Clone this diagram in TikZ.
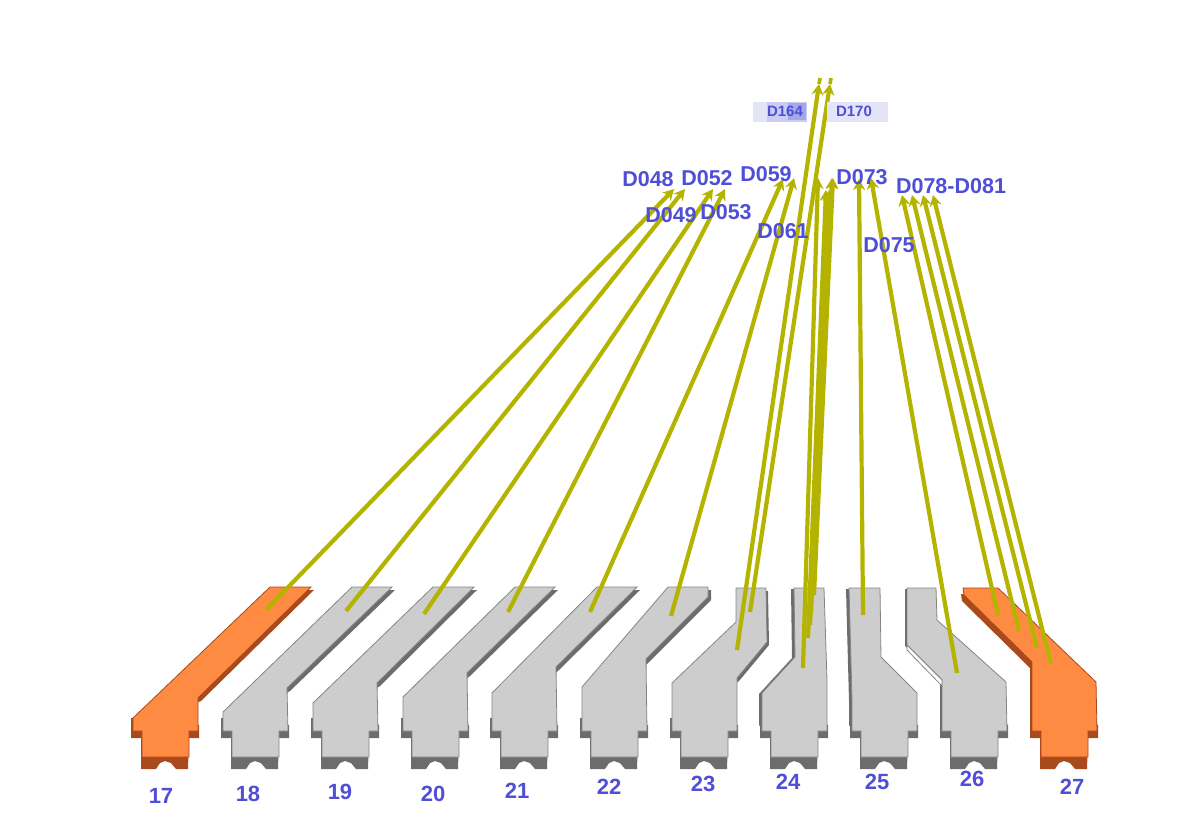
\documentclass[tikz,border=0pt]{standalone}
\usepackage{fontspec}
\setmainfont{Liberation Sans}
\usetikzlibrary{arrows.meta}
\definecolor{railgray}{HTML}{CDCDCD}
\definecolor{raildark}{HTML}{6C6C6C}
\definecolor{railedge}{HTML}{858585}
\definecolor{railorange}{HTML}{FF8A42}
\definecolor{orangedark}{HTML}{A84A1C}
\definecolor{wireyellow}{HTML}{B4B400}
\definecolor{labelblue}{HTML}{4E4ED6}
\definecolor{patchlight}{HTML}{E3E5F6}
\definecolor{patchmid}{HTML}{CACDF1}
\definecolor{patchdeep}{HTML}{A4A8EA}
\newcommand{\railbar}[5]{%
  \fill[#4, shift={(#5)}] (#1,725) -- #2 -- cycle;
  \fill[#4] (#1-2,718) -- (#1-2,738) -- (#1+8,738) -- (#1+8,769) -- (#1+23,769) -- (#1+27,763) -- (#1+32,761) -- (#1+38,763) -- (#1+43,769) -- (#1+55,769) -- (#1+56,738) -- (#1+66,738) -- (#1+66,725) -- cycle;
  \draw[#3] (#1,731) -- #2 -- (#1+65,731) -- (#1+56,731) -- (#1+56,757) -- (#1+9,757) -- (#1+9,731) -- cycle;
}
\begin{document}
\begin{tikzpicture}[
    x=1pt, y=-1pt,
    grayface/.style = {draw=railedge, line width=0.8pt, fill=railgray},
    grayshade/.style = {raildark},
    orangeface/.style = {draw=orangedark, line width=0.8pt, fill=railorange},
    orangeshade/.style = {orangedark},
    wire/.style = {draw=wireyellow, line width=4.2pt, -{Stealth[length=11pt,width=12pt]}},
    wiretail/.style = {draw=wireyellow, line width=3.6pt},
    barnum/.style = {text=labelblue, font=\bfseries\fontsize{22}{22}\selectfont, inner sep=0pt},
    wirelabel/.style = {text=labelblue, font=\bfseries\fontsize{21.5}{22}\selectfont, inner sep=0pt},
    toplabel/.style = {text=labelblue, font=\bfseries\fontsize{15}{16}\selectfont, inner sep=0pt}
]
\useasboundingbox (0,0) rectangle (1189,825);

\railbar{133}{(133,718) -- (270,587) -- (311,587) -- (198,698)}{orangeface}{orangeshade}{3,3}
\railbar{223}{(223,712) -- (352,587) -- (392,587) -- (287,688)}{grayface}{grayshade}{3,3}
\railbar{313}{(313,703) -- (433,587) -- (474,587) -- (377,683)}{grayface}{grayshade}{3,3}
\railbar{403}{(403,697) -- (515,587) -- (555,587) -- (467,673)}{grayface}{grayshade}{3,3}
\railbar{492}{(492,693) -- (597,587) -- (637,587) -- (556,667)}{grayface}{grayshade}{3,3}
\railbar{582}{(582,687) -- (668,587) -- (708,587) -- (708,597) -- (646,659)}{grayface}{grayshade}{3,3}
\railbar{672}{(672,683) -- (736,622) -- (736,588) -- (766,588) -- (767,642) -- (737,678)}{grayface}{grayshade}{2,3}
\railbar{762}{(762,693) -- (795,657) -- (794,588) -- (824,588) -- (827,680)}{grayface}{grayshade}{-3,1}
\railbar{852}{(852,700) -- (849,588) -- (880,588) -- (881,657) -- (917,693)}{grayface}{grayshade}{-3,1}
\railbar{942}{(942,680) -- (907,645) -- (907,588) -- (936,588) -- (937,620) -- (1006,682)}{grayface}{grayshade}{-2,1}
\railbar{1032}{(1032,662) -- (964,595) -- (963,588) -- (998,588) -- (1096,682)}{orangeface}{orangeshade}{-2,6}
\draw[grayface, fill=white] (907,645) -- (907,650) -- (942,686) -- (942,680) -- cycle;

\coordinate (w17a) at (266,610);  \coordinate (w17b) at (674,189);
\coordinate (w18a) at (346,611);  \coordinate (w18b) at (685,189);
\coordinate (w19a) at (424,614);  \coordinate (w19b) at (713,189);
\coordinate (w20a) at (508,612);  \coordinate (w20b) at (725,189);
\coordinate (w21a) at (590,612);  \coordinate (w21b) at (783,179);
\coordinate (w22a) at (671,616);  \coordinate (w22b) at (794,178);
\coordinate (w23a) at (737,650);  \coordinate (w23b) at (819,84);  \coordinate (w23e) at (820,78);
\coordinate (w23c) at (750,612);  \coordinate (w23d) at (830,84);  \coordinate (w23f) at (831,78);
\coordinate (w24a) at (803,668);  \coordinate (w24b) at (818,178);
\coordinate (w24c) at (808,638);  \coordinate (w24d) at (826,190);
\coordinate (w24e) at (810,625);  \coordinate (w24f) at (832,178);
\coordinate (w24g) at (811,613);  \coordinate (w24h) at (829,190);
\coordinate (w24i) at (814,595);  \coordinate (w24j) at (833,178);
\coordinate (w25a) at (863,615);  \coordinate (w25b) at (859,179);
\coordinate (w26a) at (957,673);  \coordinate (w26b) at (871,178);
\coordinate (w27a) at (998,615);  \coordinate (w27b) at (902,195);
\coordinate (w27c) at (1019,631); \coordinate (w27d) at (912,195);
\coordinate (w27e) at (1037,648); \coordinate (w27f) at (923,195);
\coordinate (w27g) at (1051,664); \coordinate (w27h) at (933,195);

\draw[wire] (w17a) -- (w17b);
\draw[wire] (w18a) -- (w18b);
\draw[wire] (w19a) -- (w19b);
\draw[wire] (w20a) -- (w20b);
\draw[wire] (w21a) -- (w21b);
\draw[wire] (w22a) -- (w22b);
\draw[wire] (w23a) -- (w23b);
\draw[wiretail] (w23b) -- (w23e);
\draw[wire] (w23c) -- (w23d);
\draw[wiretail] (w23d) -- (w23f);
\draw[wire] (w24a) -- (w24b);
\draw[wire] (w24c) -- (w24d);
\draw[wire] (w24e) -- (w24f);
\draw[wire] (w24g) -- (w24h);
\draw[wire] (w24i) -- (w24j);
\draw[wire] (w25a) -- (w25b);
\draw[wire] (w26a) -- (w26b);
\draw[wire] (w27a) -- (w27b);
\draw[wire] (w27c) -- (w27d);
\draw[wire] (w27e) -- (w27f);
\draw[wire] (w27g) -- (w27h);

\fill[patchlight] (753,102) rectangle (807,122);
\fill[patchmid] (767,102) rectangle (807,122);
\fill[patchdeep] (788,103) rectangle (806,120);
\fill[patchlight] (827,102) rectangle (888,122);

\node[toplabel] (d164) at (785,111) {D164};
\node[toplabel] (d170) at (854,111) {D170};
\node[wirelabel] (d048) at (648,179) {D048};
\node[wirelabel] (d052) at (707,178) {D052};
\node[wirelabel] (d059) at (766,174) {D059};
\node[wirelabel] (d049) at (671,215) {D049};
\node[wirelabel] (d053) at (726,212) {D053};
\node[wirelabel] (d061) at (783,231) {D061};
\node[wirelabel] (d073) at (862,177) {D073};
\node[wirelabel] (d075) at (889,245) {D075};
\node[wirelabel] (d078) at (951,186) {D078-D081};

\node[barnum] (n17) at (161,796) {17};
\node[barnum] (n18) at (248,794) {18};
\node[barnum] (n19) at (340,792) {19};
\node[barnum] (n20) at (433,794) {20};
\node[barnum] (n21) at (517,791) {21};
\node[barnum] (n22) at (609,787) {22};
\node[barnum] (n23) at (703,784) {23};
\node[barnum] (n24) at (788,782) {24};
\node[barnum] (n25) at (877,782) {25};
\node[barnum] (n26) at (972,779) {26};
\node[barnum] (n27) at (1072,787) {27};
\end{tikzpicture}
\end{document}
